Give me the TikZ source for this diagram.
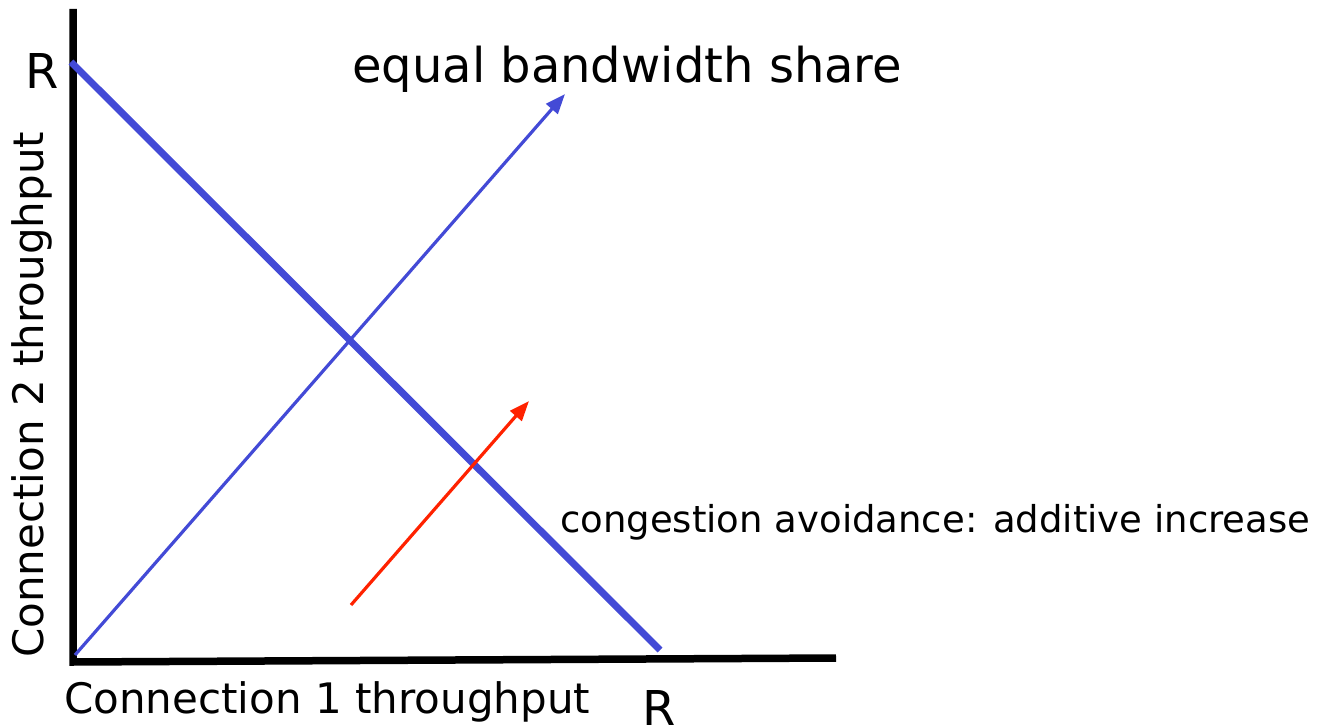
\documentclass[tikz,border=0pt]{standalone}
\usepackage{fontspec}
\setmainfont{DejaVu Sans}
\usetikzlibrary{arrows.meta}
\definecolor{lineblue}{RGB}{67,74,214}
\definecolor{arrred}{RGB}{255,34,0}
\begin{document}
\begin{tikzpicture}[x=1pt,y=-1pt,
  axisline/.style={line width=7.5pt,black},
  capline/.style={line width=7pt,lineblue},
  shareline/.style={line width=3.2pt,lineblue,-{Triangle[length=20pt,width=15pt]}},
  incrline/.style={line width=3.2pt,arrred,-{Triangle[length=20pt,width=15pt]}},
  lbl/.style={inner sep=0pt,font=\fontsize{42}{48}\selectfont},
  big/.style={inner sep=0pt,font=\fontsize{48}{56}\selectfont}]
\useasboundingbox (0,0) rectangle (1322,727);
% coordinates
\coordinate (ytop) at (73,9);
\coordinate (orig) at (73,658);
\coordinate (xend) at (836,658);
\coordinate (capA) at (71,62);
\coordinate (capB) at (660,650);
\coordinate (shA) at (75,655);
\coordinate (shB) at (565,94);
\coordinate (aiA) at (351,605);
\coordinate (aiB) at (529,401);
% axes
\draw[axisline] (ytop) -- (73,662) -- (xend);
% lines
\draw[capline] (capA) -- (capB);
\draw[shareline] (shA) -- (shB);
\draw[incrline] (aiA) -- (aiB);
% labels
\node[big,anchor=base west] (r1) at (25,89) {R};
\node[big,anchor=base west] (r2) at (642,725) {R};
\node[big,anchor=base west] (eq) at (352,83) {equal bandwidth share};
\node[lbl,anchor=base west] (c1) at (64,713) {Connection 1 throughput};
\node[lbl,anchor=base west,rotate=90] (c2) at (43,658) {Connection 2 throughput};
\node[inner sep=0pt,anchor=base west,font=\fontsize{37}{44}\selectfont] (ca) at (560,532) {congestion avoidance: additive increase};
\end{tikzpicture}
\end{document}
